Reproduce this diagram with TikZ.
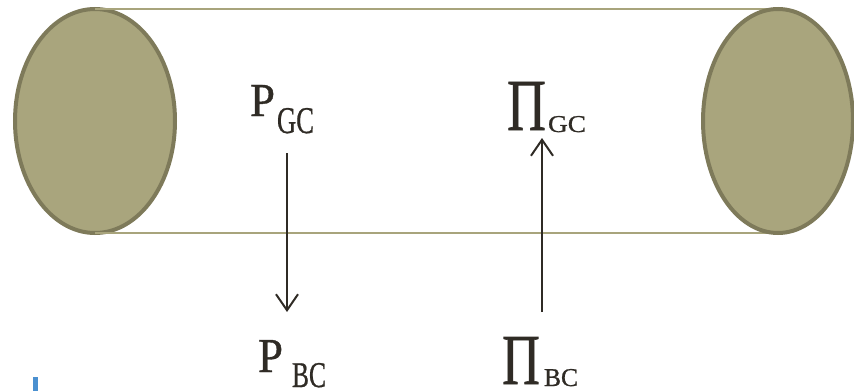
\documentclass[tikz,border=0pt]{standalone}
\usepackage{fontspec}
\setmainfont[FakeBold=0.8]{Liberation Serif}
\usetikzlibrary{arrows.meta}
\definecolor{olivefill}{HTML}{A9A57D}
\definecolor{olivedraw}{HTML}{7E7A5A}
\definecolor{oliveline}{HTML}{A8A47C}
\definecolor{ink}{HTML}{2F2B25}
\definecolor{bluemark}{HTML}{4A90D0}
\newcommand{\fitbox}[3]{\resizebox{#1}{#2}{#3}}
\tikzset{
  endcap/.style={fill=olivefill, draw=olivedraw, line width=4pt},
  sideline/.style={draw=oliveline, line width=2.4pt},
  lbl/.style={anchor=base west, inner sep=0pt, outer sep=0pt, text=ink},
  flow/.style={draw=ink, line width=2pt, -{Straight Barb[length=16pt,width=22pt,line width=2pt]}}
}
\begin{document}
\begin{tikzpicture}[x=1pt,y=-1pt]
\useasboundingbox (0,0) rectangle (854,391);
% left end
\draw[endcap] (95,121) ellipse [x radius=80, y radius=112];
% side lines
\coordinate (lt) at (95,9);
\coordinate (lb) at (95,233);
\coordinate (rt) at (778,9);
\coordinate (rb) at (778,233);
\draw[sideline] (lt) -- (rt);
\draw[sideline] (lb) -- (rb);
% right end
\draw[endcap] (778,121) ellipse [x radius=75, y radius=112];
% labels
\node[lbl] (pgc) at (250,116) {\fitbox{25pt}{31pt}{P}};
\node[lbl] (pgcs) at (277,133) {\fitbox{37pt}{25pt}{GC}};
\node[lbl] (pigc) at (507,130) {\fitbox{39pt}{48pt}{Π}};
\node[lbl] (pigcs) at (548,132) {\fitbox{38pt}{16pt}{GC}};
\node[lbl] (pbc) at (258,372) {\fitbox{25pt}{32pt}{P}};
\node[lbl] (pbcs) at (292,387) {\fitbox{34pt}{24pt}{BC}};
\node[lbl] (pibc) at (502,384) {\fitbox{38pt}{47pt}{Π}};
\node[lbl] (pibcs) at (544,386) {\fitbox{34pt}{17pt}{BC}};
% arrows
\coordinate (a1s) at (287,153);
\coordinate (a1e) at (287,312);
\coordinate (a2s) at (542,312);
\coordinate (a2e) at (542,138);
\draw[flow] (a1s) -- (a1e);
\draw[flow] (a2s) -- (a2e);
% blue mark
\fill[bluemark] (33,377) rectangle (38,391);
\end{tikzpicture}
\end{document}
